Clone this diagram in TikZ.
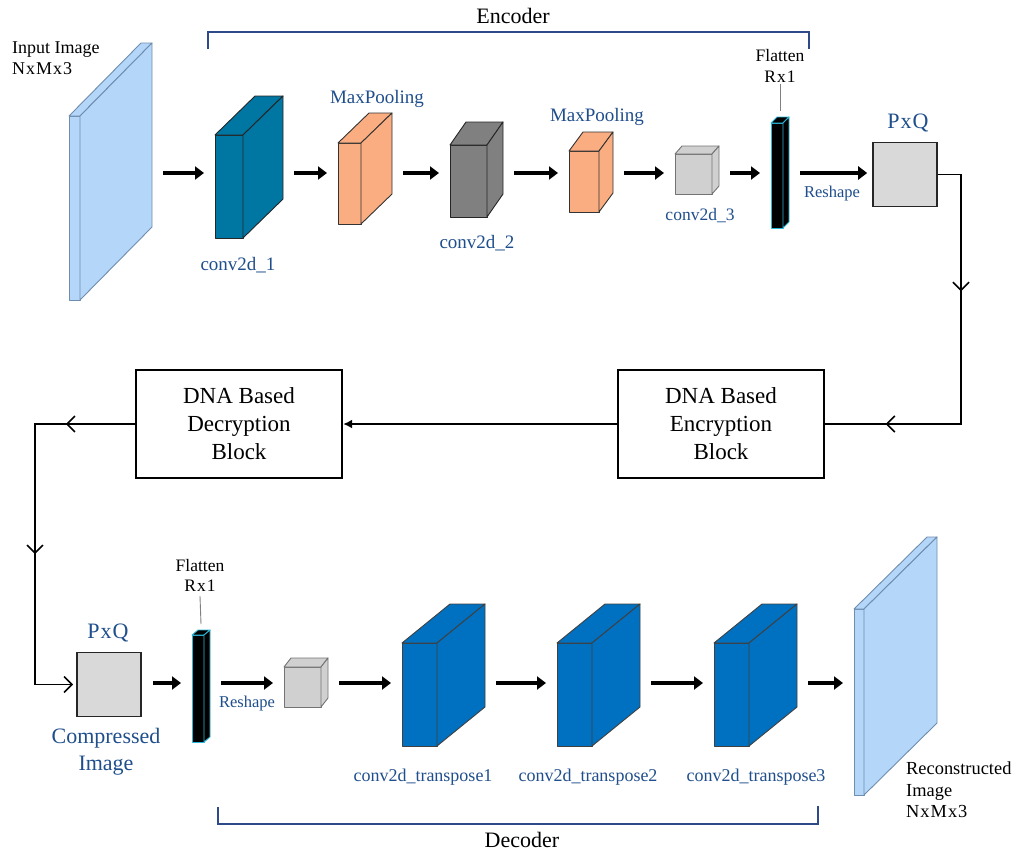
\documentclass[tikz,border=0pt]{standalone}
\usepackage{fontspec}
\setmainfont{Liberation Serif}
\usetikzlibrary{arrows.meta,decorations.markings,positioning}
\definecolor{bleuclair}{HTML}{B4D6F9}
\definecolor{bordclair}{HTML}{6F8DAD}
\definecolor{sarcelle}{HTML}{0076A3}
\definecolor{saumon}{HTML}{F9AD81}
\definecolor{grisfonce}{HTML}{808080}
\definecolor{grisclair}{HTML}{D0D0D0}
\definecolor{grismoyen}{HTML}{D9D9D9}
\definecolor{bleuvif}{HTML}{0070C0}
\definecolor{bordcyan}{HTML}{2BB7DA}
\definecolor{bleutexte}{HTML}{1F4E8C}
\definecolor{bleucrochet}{HTML}{2E4A8A}

\begin{document}
\begin{tikzpicture}[x=1pt,y=-1pt]
% Styles
\tikzstyle{fleche}=[-{Triangle[length=9pt,width=13pt]},line width=4.5pt,shorten <=11pt,shorten >=11pt]
\tikzstyle{lien}=[line width=1.6pt]
\tikzstyle{barbe}=[-{Straight Barb[length=8pt,width=16pt]}]
\tikzstyle{bloc}=[draw,line width=2.4pt,minimum width=206pt,minimum height=108pt,align=center,font=\fontsize{23}{28}\selectfont]
\tikzstyle{carre}=[draw=black!85,fill=grismoyen,line width=1.6pt,minimum size=64pt,inner sep=0pt]
\tikzstyle{cadre}=[inner sep=0pt,outer sep=0pt,anchor=south west]
\tikzstyle{etiq}=[text=bleutexte,inner sep=0pt,anchor=base,font=\fontsize{19}{23}\selectfont]
\tikzstyle{grand}=[text=bleutexte,inner sep=0pt,anchor=base,font=\fontsize{22}{27}\selectfont]
\tikzstyle{petit}=[text=bleutexte,inner sep=0pt,anchor=base,font=\fontsize{16.5}{20}\selectfont]
\tikzstyle{noir}=[inner sep=0pt,anchor=base,font=\fontsize{17.5}{21}\selectfont]
\tikzstyle{titre}=[inner sep=0pt,anchor=base,font=\fontsize{22}{26}\selectfont]
\tikzstyle{crochet}=[draw=bleucrochet,line width=1.2pt]
\tikzstyle{tige}=[draw=gray,line width=0.9pt]
% Macros
\def\fois{\kern1pt x\kern1pt}
% pave : nom, x, y (bas gauche), largeur, hauteur, dx, dy, fond, bord
\def\Pave#1#2#3#4#5#6#7#8#9{%
\node[cadre,minimum width=#4pt+#6pt,minimum height=#5pt+#7pt] (#1) at (#2,#3) {};
\filldraw[fill=#8,draw=#9,line width=0.9pt,line join=round] (#2,#3) -- ++(#4,0) -- ++(0,-#5) -- ++(-#4,0) -- cycle;
\filldraw[fill=#8,draw=#9,line width=0.9pt,line join=round] (#2,#3-#5) -- ++(#6,-#7) -- ++(#4,0) -- ++(-#6,#7) -- cycle;
\filldraw[fill=#8,draw=#9,line width=0.9pt,line join=round] (#2+#4,#3) -- ++(#6,-#7) -- ++(0,-#5) -- ++(-#6,#7) -- cycle;
}
\useasboundingbox (0,0) rectangle (1013,852);
% Encodeur
\Pave{in}{69}{300}{11}{184}{72}{73}{bleuclair}{bordclair}
\Pave{c1}{215}{238}{28}{103}{40}{39}{sarcelle}{black!85}
\Pave{mp1}{338}{224}{23}{81}{31}{30}{saumon}{black!80}
\Pave{c2}{450}{217}{37}{72}{16}{23}{grisfonce}{black!85}
\Pave{mp2}{569}{212}{30}{61}{14}{19}{saumon}{black!80}
\Pave{c3}{675}{194}{37}{40}{7}{8}{grisclair}{black!55}
\Pave{fl1}{771}{228}{12}{105}{6}{6}{black}{bordcyan}
\node[carre] (pq1) at (905,174.5) {};
% Decodeur
\node[carre] (pq2) at (109,684.5) {};
\Pave{fl2}{192}{742}{12}{107}{6}{5}{black}{bordcyan}
\Pave{cb}{284}{707}{37}{40}{7}{9}{grisclair}{black!55}
\Pave{t1}{402}{746}{35}{103}{48}{39}{bleuvif}{black!75}
\Pave{t2}{557}{746}{35}{103}{48}{39}{bleuvif}{black!75}
\Pave{t3}{714}{746}{35}{103}{48}{39}{bleuvif}{black!75}
\Pave{rec}{854}{795}{10}{186}{73}{72}{bleuclair}{bordclair}
% Blocs ADN
\node[bloc] (enc) at (721,424) {DNA Based\\Encryption\\Block};
\node[bloc] (dec) at (239,424) {DNA Based\\Decryption\\Block};
\coordinate (ligne1) at (0,173);
\coordinate (ligne2) at (0,683);
\coordinate (coin1) at (961,300);
\coordinate (coin2) at (35,550);
% Etiquettes
\node[inner sep=0pt,anchor=north west,align=left,font=\fontsize{18}{21}\selectfont] (tin) at (12,41.5) {Input Image\\N\fois M\fois 3};
\node[etiq] (tc1) at (238,270) {conv2d\_1};
\node[etiq] (tmp1) at (377,103) {MaxPooling};
\node[etiq] (tc2) at (477,248) {conv2d\_2};
\node[etiq] (tmp2) at (597,121) {MaxPooling};
\node[etiq,font=\fontsize{17.5}{21}\selectfont] (tc3) at (700,220) {conv2d\_3};
\node[noir] (tfl1) at (780,61) {Flatten};
\node[noir] (rx1) at (780,82) {R\fois 1};
\node[petit] (tre1) at (832,197) {Reshape};
\node[grand] (tpq1) at (908,128) {P\fois Q};
\node[titre] (tenc) at (513,23) {Encoder};
\node[noir] (tfl2) at (200,571) {Flatten};
\node[noir] (rx2) at (200,591) {R\fois 1};
\node[grand] (tpq2) at (108,638) {P\fois Q};
\node[grand,anchor=north,align=center] (tcomp) at (106,728) {Compressed\\Image};
\node[petit] (tre2) at (247,707) {Reshape};
\node[etiq,font=\fontsize{18}{22}\selectfont] (tt1) at (423,781) {conv2d\_transpose1};
\node[etiq,font=\fontsize{18}{22}\selectfont] (tt2) at (588,781) {conv2d\_transpose2};
\node[etiq,font=\fontsize{18}{22}\selectfont] (tt3) at (756,781) {conv2d\_transpose3};
\node[titre] (tdec) at (522,847) {Decoder};
\node[inner sep=0pt,anchor=north west,align=left,font=\fontsize{18.4}{21.5}\selectfont] (trec) at (906,762) {Reconstructed\\Image\\N\fois M\fois 3};
% Crochets
\draw[crochet] (208,49) -- (208,32) -- (809,32) -- (809,49);
\draw[crochet] (218,807) -- (218,824) -- (818,824) -- (818,806);
\draw[tige] ([yshift=-2pt]rx1.south) -- ([yshift=6pt]fl1.north);
\draw[tige] ([yshift=-5pt]rx2.south) -- ([yshift=6pt]fl2.north);
% Fleches
\foreach \a/\b in {in/c1,c1/mp1,mp1/c2,c2/mp2,mp2/c3,c3/fl1}
  \draw[fleche] (\a.east |- ligne1) -- (\b.west |- ligne1);
\draw[fleche,shorten >=5pt] (fl1.east |- ligne1) -- (pq1.west |- ligne1);
\foreach \a/\b in {pq2/fl2,fl2/cb,cb/t1,t1/t2,t2/t3,t3/rec}
  \draw[fleche] (\a.east |- ligne2) -- (\b.west |- ligne2);
% Liens
\draw[lien,postaction={decorate},decoration={markings,
  mark=at position 140pt with {\arrow{Straight Barb[length=8pt,width=16pt]}},
  mark=at position 348pt with {\arrow{Straight Barb[length=8pt,width=16pt]}}}]
  (pq1.east) -- (pq1.east -| coin1) -- (coin1 |- enc.east) -- (enc.east);
\draw[lien,-{Latex[length=9pt,width=9pt]}] (enc.west) -- (dec.east);
\draw[lien,barbe,shorten >=3pt,postaction={decorate},decoration={markings,
  mark=at position 69pt with {\arrow{Straight Barb[length=8pt,width=16pt]}},
  mark=at position 230pt with {\arrow{Straight Barb[length=8pt,width=16pt]}}}]
  (dec.west) -- (dec.west -| coin2) -- (coin2 |- pq2.west) -- (pq2.west);
\end{tikzpicture}
\end{document}
